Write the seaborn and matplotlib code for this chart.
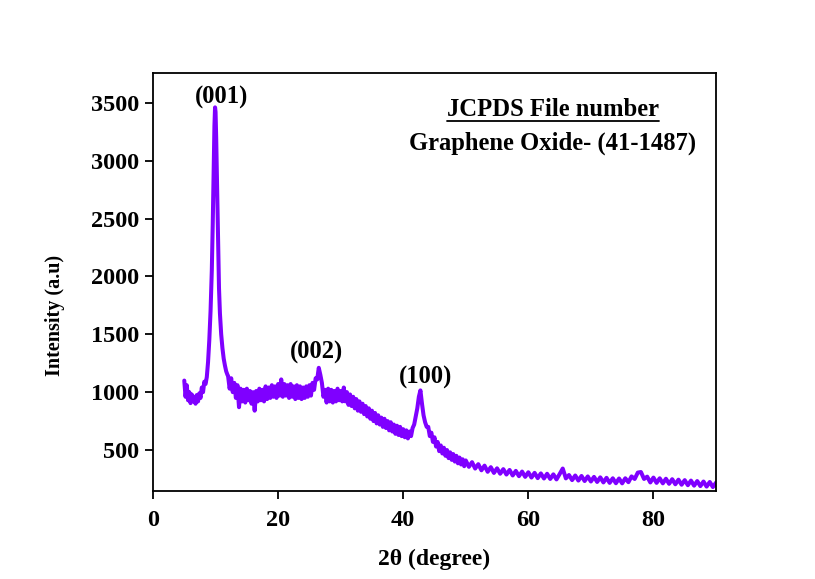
import matplotlib
matplotlib.use("Agg")
import matplotlib.pyplot as plt
import seaborn as sns
import pandas as pd
from matplotlib.lines import Line2D

# ---- data ----
two_theta = [
    5.0, 5.2, 5.4, 5.6, 5.8, 6.0, 6.2, 6.4, 6.6, 6.8, 7.0, 7.2, 7.4, 7.6, 7.8, 8.0, 8.2, 8.4,
    8.6, 8.8, 9.0, 9.2, 9.4, 9.55, 9.7, 9.82, 9.92, 10.0, 10.1, 10.25, 10.4, 10.55, 10.7, 10.9,
    11.1, 11.3, 11.5, 11.7, 11.9,
    12.0, 12.25, 12.5, 12.75, 13.0, 13.25, 13.5, 13.75, 14.0, 14.25, 14.5, 14.75,
    15.0, 15.25, 15.5, 15.75, 16.0, 16.25, 16.5, 16.75, 17.0, 17.25, 17.5, 17.75,
    18.0, 18.25, 18.5, 18.75, 19.0, 19.25, 19.5, 19.75, 20.0, 20.25, 20.5, 20.75,
    21.0, 21.25, 21.5, 21.75, 22.0, 22.25, 22.5, 22.75, 23.0, 23.25, 23.5, 23.75,
    24.0, 24.25, 24.5, 24.75, 25.0, 25.25, 25.5, 25.75, 26.0, 26.25, 26.5, 26.75,
    27.0, 27.25, 27.5, 27.75, 28.0, 28.25, 28.5, 28.75, 29.0, 29.25, 29.5, 29.75,
    30.0, 30.25, 30.5, 30.75, 31.0, 31.25, 31.5, 31.75, 32.0, 32.25, 32.5, 32.75,
    33.0, 33.25, 33.5, 33.75, 34.0, 34.25, 34.5, 34.75, 35.0, 35.25, 35.5, 35.75,
    36.0, 36.25, 36.5, 36.75, 37.0, 37.25, 37.5, 37.75, 38.0, 38.25, 38.5, 38.75,
    39.0, 39.25, 39.5, 39.75, 40.0, 40.25, 40.5, 40.75, 41.0, 41.25, 41.5, 41.75,
    42.0, 42.25, 42.5, 42.75, 43.0, 43.25, 43.5, 43.75, 44.0, 44.25, 44.5, 44.75,
    45.0, 45.25, 45.5, 45.75, 46.0, 46.25, 46.5, 46.75, 47.0, 47.25, 47.5, 47.75,
    48.0, 48.25, 48.5, 48.75, 49.0, 49.25, 49.5, 49.75, 50.0,
    50.5, 51.0, 51.5, 52.0, 52.5, 53.0, 53.5, 54.0, 54.5, 55.0, 55.5, 56.0, 56.5, 57.0,
    57.5, 58.0, 58.5, 59.0, 59.5, 60.0, 60.5, 61.0, 61.5, 62.0, 62.5, 63.0, 63.5, 64.0,
    64.5, 65.0, 65.5, 66.0, 66.5, 67.0, 67.5, 68.0, 68.5, 69.0, 69.5, 70.0, 70.5, 71.0,
    71.5, 72.0, 72.5, 73.0, 73.5, 74.0, 74.5, 75.0, 75.5, 76.0, 76.5, 77.0, 77.5, 78.0,
    78.5, 79.0, 79.5, 80.0, 80.5, 81.0, 81.5, 82.0, 82.5, 83.0, 83.5, 84.0, 84.5, 85.0,
    85.5, 86.0, 86.5, 87.0, 87.5, 88.0, 88.5, 89.0, 89.5, 90.0,
]

intensity = [
    1100, 960, 1060, 930, 1000, 905, 980, 920, 960, 900, 975, 920, 990, 950, 1040, 1000, 1090, 1070,
    1130, 1260, 1450, 1700, 2050, 2450, 2900, 3300, 3460, 3420, 3200, 2750, 2250, 1900, 1680, 1500,
    1380, 1290, 1230, 1180, 1150,
    1140, 1030, 1120, 1000, 1080, 950, 1060, 870, 1030, 920, 1020, 910,
    1030, 930, 1010, 900, 1000, 840, 1010, 920, 1030, 930, 1020, 920,
    1050, 940, 1040, 950, 1060, 960, 1050, 950, 1070, 970, 1110, 960,
    1070, 970, 1060, 950, 1070, 960, 1050, 940, 1060, 950, 1050, 940,
    1040, 950, 1050, 960, 1060, 970, 1080, 1020, 1120, 1110, 1210, 1150,
    1080, 960, 1020, 910, 1030, 920, 1020, 910, 1010, 920, 1030, 930,
    1010, 920, 1040, 920, 1000, 890, 980, 880, 960, 860, 940, 840,
    920, 830, 900, 810, 880, 790, 860, 770, 840, 750, 820, 730,
    800, 720, 780, 700, 770, 690, 750, 670, 740, 660, 720, 640,
    710, 630, 700, 620, 680, 610, 670, 600, 660, 620, 690, 720,
    790, 860, 960, 1015, 900, 800, 740, 700, 700, 620, 650, 570,
    610, 530, 570, 490, 540, 470, 520, 450, 500, 430, 480, 415,
    465, 400, 450, 385, 435, 375, 420, 360, 410,
    355, 395, 340, 378, 325, 365, 312, 352, 302, 342, 295, 335, 288, 328,
    280, 320, 274, 314, 268, 308, 262, 303, 257, 298, 254, 295, 250, 290,
    246, 292, 340, 255, 284, 240, 280, 236, 276, 232, 272, 228, 268, 224,
    264, 220, 260, 216, 256, 213, 254, 212, 256, 222, 272, 250, 305, 310,
    250, 270, 220, 262, 216, 256, 212, 252, 208, 248, 204, 244, 200, 240,
    196, 236, 192, 232, 188, 228, 184, 224, 180, 218,
]

x_ticks = [0, 20, 40, 60, 80]
y_ticks = [500, 1000, 1500, 2000, 2500, 3000, 3500]
peak_labels = ["(001)", "(002)", "(100)"]
peak_label_x = [11.0, 26.2, 43.5]
peak_label_y = [3549, 1347, 1131]

assert len(two_theta) == len(intensity), (len(two_theta), len(intensity))

sns.set_theme(style="ticks")
plt.rcParams["font.family"] = ["Liberation Serif", "DejaVu Serif"]
plt.rcParams["font.weight"] = "bold"

fig = plt.figure(figsize=(8.15, 5.79), dpi=100)
fig.patch.set_facecolor("white")
ax = fig.add_axes([153 / 815, 1 - 491 / 579, 563 / 815, 418 / 579])
ax.set_facecolor("white")

df = pd.DataFrame({"two_theta": two_theta, "intensity": intensity})
sns.lineplot(data=df, x="two_theta", y="intensity", ax=ax, color="#7F00FF",
             linewidth=2.9, estimator=None, sort=False)

ax.set_xlim(0, 90)
ax.set_ylim(146, 3757)
ax.set_xticks(x_ticks)
ax.set_yticks(y_ticks)
ax.tick_params(axis="both", direction="out", length=6, width=1.3, labelsize=17.5,
               color="black", labelcolor="black")
ax.tick_params(axis="x", pad=8)
ax.tick_params(axis="y", pad=4)
for lab in ax.get_xticklabels() + ax.get_yticklabels():
    lab.set_fontweight("bold")
for sp in ax.spines.values():
    sp.set_visible(True)
    sp.set_linewidth(1.3)
    sp.set_color("black")

ax.set_xlabel("2θ (degree)", fontsize=17, fontweight="bold", color="black")
ax.set_ylabel("Intensity (a.u)", fontsize=14.5, fontweight="bold", color="black")
ax.xaxis.set_label_coords(0.5, -0.139)
ax.yaxis.set_label_coords(-0.156, 0.42)

for t, x, y in zip(peak_labels, peak_label_x, peak_label_y):
    ax.text(x, y, t, ha="center", va="center", fontsize=17.7, fontweight="bold", color="black")

t1 = fig.text(553 / 815, 1 - 109 / 579, "JCPDS File number", ha="center", va="center",
              fontsize=17.7, fontweight="bold", color="black")
fig.text(553 / 815, 1 - 143 / 579, "Graphene Oxide- (41-1487)", ha="center", va="center",
         fontsize=17.7, fontweight="bold", color="black")

fig.canvas.draw()
bb = t1.get_window_extent().transformed(fig.transFigure.inverted())
uy = 1 - 120.5 / 579
fig.add_artist(Line2D([bb.x0, bb.x1], [uy, uy], transform=fig.transFigure,
                      color="black", linewidth=1.3))

fig.savefig("out.png", dpi=100, facecolor="white")
